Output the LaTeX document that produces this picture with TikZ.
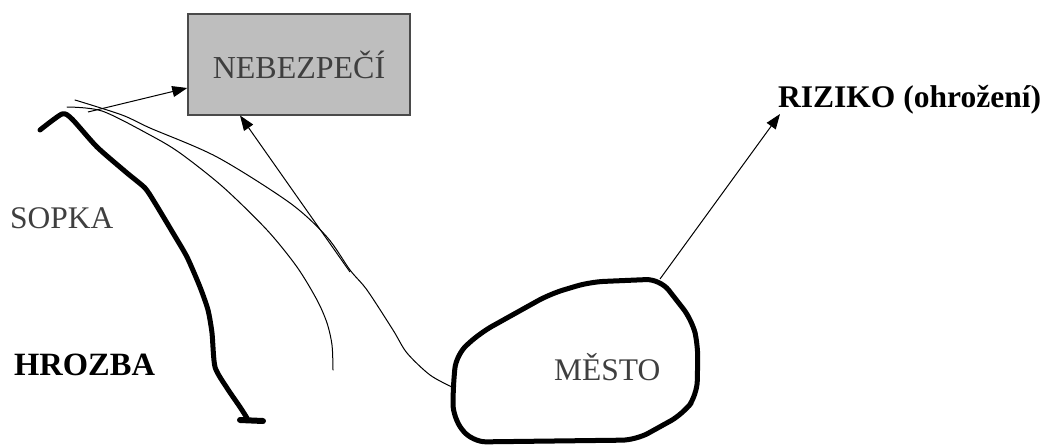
\documentclass[tikz,border=0pt]{standalone}
\usepackage{fontspec}
\setmainfont{Liberation Serif}
\usetikzlibrary{arrows.meta}
\definecolor{boxfill}{HTML}{BEBEBE}
\definecolor{boxline}{HTML}{4A4A4A}
\definecolor{graytext}{HTML}{3F3F3F}
\begin{document}
\begin{tikzpicture}[x=1pt,y=-1pt,
  lbl/.style={inner sep=0pt,anchor=base west,font=\fontsize{31.5}{36}\selectfont},
  thin line/.style={line width=1pt,line cap=round,line join=round},
  thick line/.style={line width=5pt,line cap=round,line join=round},
  arr/.style={line width=1pt,-{Triangle[length=15pt,width=11pt]}}]
\useasboundingbox (0,0) rectangle (1043,444);
% box
\node[draw=boxline,line width=1.5pt,fill=boxfill,minimum width=222pt,minimum height=101pt,inner sep=0pt,
      text=graytext,font=\fontsize{32}{36}\selectfont] (neb) at (299,64.5) {NEBEZPEČÍ};
% labels
\node[lbl,text=graytext] (sopka) at (10,228) {SOPKA};
\node[lbl,font=\fontsize{32.5}{36}\selectfont\bfseries] (hrozba) at (14,375) {HROZBA};
\node[lbl,text=graytext] (mesto) at (554,380) {MĚSTO};
\node[lbl,font=\fontsize{31.5}{36}\selectfont\bfseries] (riziko) at (778,107) {RIZIKO (ohrožení)};
% volcano outline (threat)
\draw[thick line] plot[smooth,tension=0.4] coordinates {(40,130) (62,114) (72,119) (97,147) (127,173) (145,188) (155,203) (173,233) (187,257) (200,287) (208,310) (212,333) (215,367) (227,388) (240,407) (247,418)};
\draw[line width=6pt,line cap=round] (240,420) -- (263,421);
% thin lines (lava flows)
\draw[thin line] plot[smooth,tension=0.5] coordinates {(67,107) (102,111) (150,135) (180,153) (223,187) (267,230) (297,267) (317,300) (327,323) (332,345) (333,370)};
\draw[thin line] plot[smooth,tension=0.5] coordinates {(75,100) (122,115) (150,128) (217,157) (290,203) (327,237) (350,270) (367,290) (393,330) (407,353) (430,375) (452,387)};
% city
\draw[thick line,rounded corners=14pt] (453,390) -- (456,355) -- (480,333) -- (550,294) -- (590,282) -- (660,279) -- (692,320) -- (698,345) -- (697,395) -- (683,414) -- (636,440) -- (472,442) -- (453,418) -- cycle;
% arrows
\coordinate (flowstart) at (88,112);
\coordinate (flowmerge) at (350,272);
\coordinate (mestoTR) at (660,279);
\draw[arr] (flowstart) -- (neb.west |- 0,88);
\draw[arr] (flowmerge) -- (240,115.5);
\draw[arr] (mestoTR) -- ([xshift=2pt,yshift=-7pt]riziko.base west);
\end{tikzpicture}
\end{document}
